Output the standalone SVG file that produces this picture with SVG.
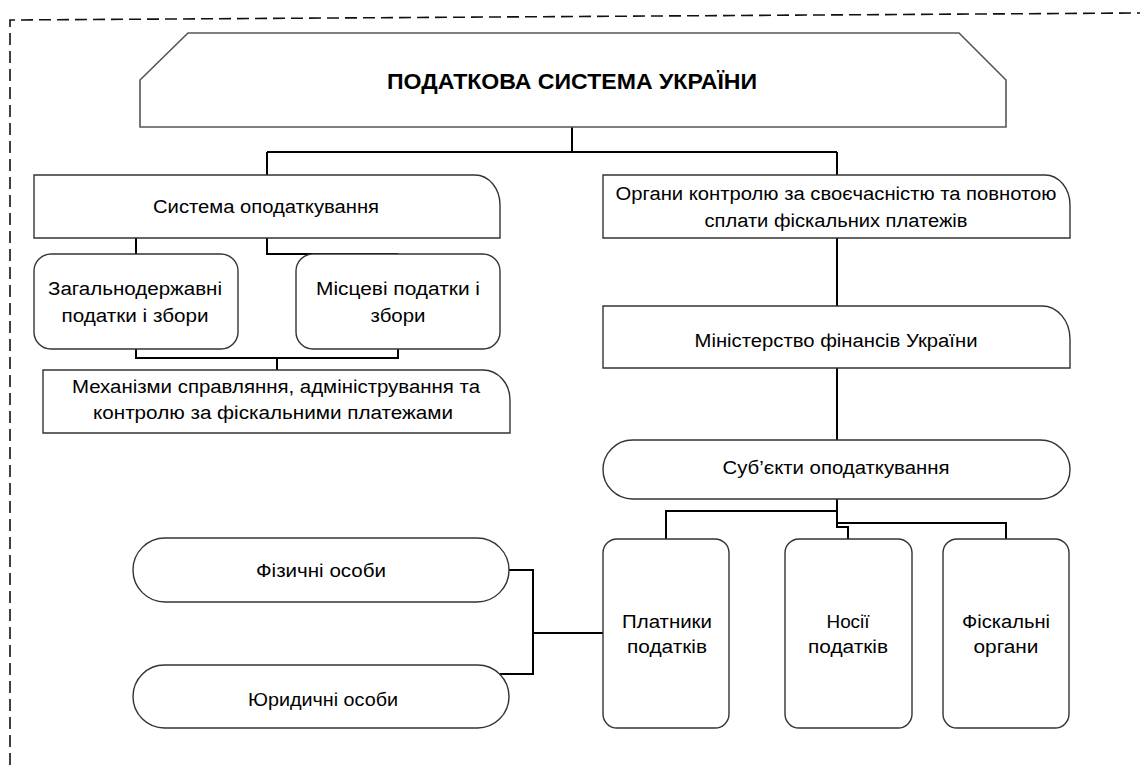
<svg xmlns="http://www.w3.org/2000/svg" width="1140" height="765" viewBox="0 0 1140 765">
<style>
.box{fill:#fff;stroke:#333;stroke-width:1.4}
.hdr{fill:#fff;stroke:#555;stroke-width:1.6}
.t{font-family:"Liberation Sans",Arial,sans-serif;font-size:18px;fill:#000;text-anchor:middle}
.tb{font-family:"Liberation Sans",Arial,sans-serif;font-size:22px;font-weight:bold;fill:#000;text-anchor:middle}
.c{fill:none;stroke:#000;stroke-width:2}
.frame{fill:none;stroke:#111;stroke-width:1.6;stroke-dasharray:12 6}
</style>
<rect width="1140" height="765" fill="#fff"/>
<path class="frame" d="M10 765 V20 L1140 13"/>
<g id="connectors">
<path class="c" d="M572 127 V152 M267 152 H837 M267 152 V175 M837 152 V175"/>
<path class="c" d="M136 238 V254 M267 238 V254 H398"/>
<path class="c" d="M136 349 V358 H398 V349 M277 358 V370"/>
<path class="c" d="M837 238 V306 M837 368 V440"/>
<path class="c" d="M837 499 V527 H848 V539 M837 511 H666 V539 M837 523 H1006 V539"/>
<path class="c" d="M509 570 H533 V674 H500 M533 633 H603"/>
</g>
<g id="n-header">
<path class="hdr" d="M188 33 H959 L1006 80 V127 H140 V80 Z"/>
<text class="tb" x="572" y="89" textLength="370" lengthAdjust="spacingAndGlyphs">ПОДАТКОВА СИСТЕМА УКРАЇНИ</text>
</g>
<g id="n-systema">
<path class="box" d="M34 175 H475 A25 30 0 0 1 500 205 V238 H34 Z"/>
<text class="t" x="266" y="213" textLength="226" lengthAdjust="spacingAndGlyphs">Система оподаткування</text>
</g>
<g id="n-zahalno">
<rect class="box" x="34" y="254" width="204" height="95" rx="17"/>
<text class="t" x="135" y="295" textLength="174" lengthAdjust="spacingAndGlyphs">Загальнодержавні</text>
<text class="t" x="135" y="322" textLength="147" lengthAdjust="spacingAndGlyphs">податки і збори</text>
</g>
<g id="n-mistsevi">
<rect class="box" x="296" y="254" width="204" height="95" rx="17"/>
<text class="t" x="398" y="295" textLength="164" lengthAdjust="spacingAndGlyphs">Місцеві податки і</text>
<text class="t" x="398" y="322" textLength="55" lengthAdjust="spacingAndGlyphs">збори</text>
</g>
<g id="n-mekhanizmy">
<path class="box" d="M43 370 H483 A27 30 0 0 1 510 400 V433 H43 Z"/>
<text class="t" x="276" y="393" textLength="408" lengthAdjust="spacingAndGlyphs">Механізми справляння, адміністрування та</text>
<text class="t" x="273" y="419" textLength="360" lengthAdjust="spacingAndGlyphs">контролю за фіскальними платежами</text>
</g>
<g id="n-orhany">
<path class="box" d="M603 175 H1045 A25 30 0 0 1 1070 205 V238 H603 Z"/>
<text class="t" x="836" y="200" textLength="441" lengthAdjust="spacingAndGlyphs">Органи контролю за своєчасністю та повнотою</text>
<text class="t" x="836" y="227" textLength="263" lengthAdjust="spacingAndGlyphs">сплати фіскальних платежів</text>
</g>
<g id="n-minfin">
<path class="box" d="M603 306 H1042 A28 33 0 0 1 1070 339 V368 H603 Z"/>
<text class="t" x="836" y="347" textLength="283" lengthAdjust="spacingAndGlyphs">Міністерство фінансів України</text>
</g>
<g id="n-subiekty">
<rect class="box" x="603" y="440" width="467" height="59" rx="29.5"/>
<text class="t" x="836" y="474" textLength="227" lengthAdjust="spacingAndGlyphs">Суб’єкти оподаткування</text>
</g>
<g id="n-platnyky">
<rect class="box" x="603" y="539" width="126" height="189" rx="14"/>
<text class="t" x="667" y="628" textLength="90" lengthAdjust="spacingAndGlyphs">Платники</text>
<text class="t" x="667" y="653" textLength="80" lengthAdjust="spacingAndGlyphs">податків</text>
</g>
<g id="n-nosii">
<rect class="box" x="785" y="539" width="127" height="189" rx="14"/>
<text class="t" x="848" y="628" textLength="43" lengthAdjust="spacingAndGlyphs">Носії</text>
<text class="t" x="848" y="653" textLength="80" lengthAdjust="spacingAndGlyphs">податків</text>
</g>
<g id="n-fiskalni">
<rect class="box" x="943" y="539" width="126" height="189" rx="14"/>
<text class="t" x="1006" y="628" textLength="88" lengthAdjust="spacingAndGlyphs">Фіскальні</text>
<text class="t" x="1006" y="653" textLength="65" lengthAdjust="spacingAndGlyphs">органи</text>
</g>
<g id="n-fizychni">
<rect class="box" x="133" y="538" width="376" height="64" rx="32"/>
<text class="t" x="321" y="577" textLength="130" lengthAdjust="spacingAndGlyphs">Фізичні особи</text>
</g>
<g id="n-yurydychni">
<rect class="box" x="133" y="665" width="376" height="63" rx="31.5"/>
<text class="t" x="323" y="706" textLength="150" lengthAdjust="spacingAndGlyphs">Юридичні особи</text>
</g>
</svg>
